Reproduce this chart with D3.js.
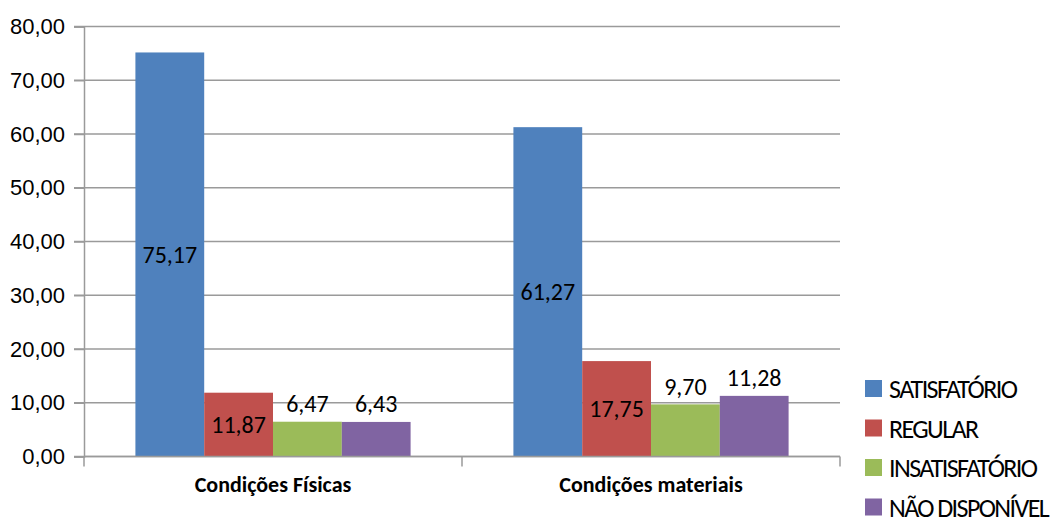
<!DOCTYPE html>
<html>
<head>
<meta charset="utf-8">
<script src="https://cdn.jsdelivr.net/npm/d3@7"></script>
<style>
  body { margin: 0; background: #fff; }
  svg { display: block; font-family: Carlito, "Liberation Sans", Arial, sans-serif; }
</style>
</head>
<body>
<svg id="chart" width="1059" height="519"></svg>
<script>
// Data
const categories = ['Condições Físicas', 'Condições materiais'];
const seriesNames = ['SATISFATÓRIO', 'REGULAR', 'INSATISFATÓRIO', 'NÃO DISPONÍVEL'];
const satisfatorio = [75.17, 61.27];
const regular = [11.87, 17.75];
const insatisfatorio = [6.47, 9.70];
const naoDisponivel = [6.43, 11.28];
const yTicks = [0, 10, 20, 30, 40, 50, 60, 70, 80];

const seriesValues = [satisfatorio, regular, insatisfatorio, naoDisponivel];
const colors = ['#4F81BD', '#C0504D', '#9BBB59', '#8064A2'];
// label placement per series, like the original (inside center vs outside end)
const labelPos = ['center', 'center', 'outside', 'outside'];

const svg = d3.select('#chart');
const margin = { left: 84, right: 219, top: 26.5, bottom: 62.5 };
const width = 1059, height = 519;

const locale = d3.formatLocale({ decimal: ',', thousands: '.', grouping: [3], currency: ['R$', ''] });
const fmt = locale.format('.2f');

const x0 = d3.scaleBand()
    .domain(categories)
    .range([margin.left, width - margin.right]);

const gap = x0.bandwidth() * 0.136;
const x1 = d3.scaleBand()
    .domain(seriesNames)
    .range([gap, x0.bandwidth() - gap]);

const y = d3.scaleLinear()
    .domain([0, 80])
    .range([height - margin.bottom, margin.top]);

// Gridlines
svg.append('g')
    .selectAll('line')
    .data(yTicks)
    .enter().append('line')
    .attr('x1', margin.left - 10)
    .attr('x2', width - margin.right)
    .attr('y1', d => y(d))
    .attr('y2', d => y(d))
    .attr('stroke', '#9a9a9a')
    .attr('stroke-width', 1.5);

// Y axis
const yAxis = svg.append('g')
    .attr('transform', `translate(${margin.left},0)`)
    .call(d3.axisLeft(y).tickValues(yTicks).tickFormat(fmt).tickSize(10).tickPadding(9));
yAxis.select('.domain').attr('stroke', '#9a9a9a').attr('stroke-width', 1.5);
yAxis.selectAll('.tick line').attr('stroke', '#9a9a9a').attr('stroke-width', 1.5);
yAxis.selectAll('.tick text')
    .attr('fill', '#000')
    .style('font-size', '22px');

// Bars
const groups = svg.append('g')
    .selectAll('g')
    .data(categories)
    .enter().append('g')
    .attr('transform', d => `translate(${x0(d)},0)`);

groups.selectAll('rect')
    .data((c, ci) => seriesNames.map((s, si) => ({ series: s, si, value: seriesValues[si][ci] })))
    .enter().append('rect')
    .attr('x', d => x1(d.series))
    .attr('y', d => y(d.value))
    .attr('width', x1.bandwidth())
    .attr('height', d => y(0) - y(d.value))
    .attr('fill', d => colors[d.si]);

// Data labels
groups.selectAll('text')
    .data((c, ci) => seriesNames.map((s, si) => ({ series: s, si, value: seriesValues[si][ci] })))
    .enter().append('text')
    .attr('x', d => x1(d.series) + x1.bandwidth() / 2)
    .attr('y', d => labelPos[d.si] === 'center'
        ? (y(d.value) + y(0)) / 2
        : y(d.value) - 18)
    .attr('dy', '0.35em')
    .attr('text-anchor', 'middle')
    .style('font-size', '24px')
    .attr('fill', '#000')
    .text(d => fmt(d.value));

// X axis
const xAxisY = y(0);
svg.append('line')
    .attr('x1', margin.left)
    .attr('x2', width - margin.right)
    .attr('y1', xAxisY)
    .attr('y2', xAxisY)
    .attr('stroke', '#9a9a9a')
    .attr('stroke-width', 1.5);

const xTickPositions = [x0.range()[0], ...categories.map(c => x0(c) + x0.bandwidth())];
svg.append('g')
    .selectAll('line')
    .data(xTickPositions)
    .enter().append('line')
    .attr('x1', d => d)
    .attr('x2', d => d)
    .attr('y1', xAxisY)
    .attr('y2', xAxisY + 10)
    .attr('stroke', '#9a9a9a')
    .attr('stroke-width', 1.5);

svg.append('g')
    .selectAll('text')
    .data(categories)
    .enter().append('text')
    .attr('x', d => x0(d) + x0.bandwidth() / 2)
    .attr('y', xAxisY + 28)
    .attr('dy', '0.35em')
    .attr('text-anchor', 'middle')
    .style('font-size', '22px')
    .style('font-weight', 'bold')
    .attr('fill', '#000')
    .text(d => d);

// Legend
const legend = svg.append('g')
    .attr('transform', 'translate(865,389)');

const items = legend.selectAll('g')
    .data(seriesNames)
    .enter().append('g')
    .attr('transform', (d, i) => `translate(0,${i * 39.5})`);

items.append('rect')
    .attr('x', 0)
    .attr('y', -9)
    .attr('width', 17)
    .attr('height', 17)
    .attr('fill', (d, i) => colors[i]);

items.append('text')
    .attr('x', 24)
    .attr('y', 0)
    .attr('dy', '0.35em')
    .style('font-size', '26px')
    .style('letter-spacing', '-1.6px')
    .attr('fill', '#000')
    .text(d => d);
</script>
</body>
</html>
